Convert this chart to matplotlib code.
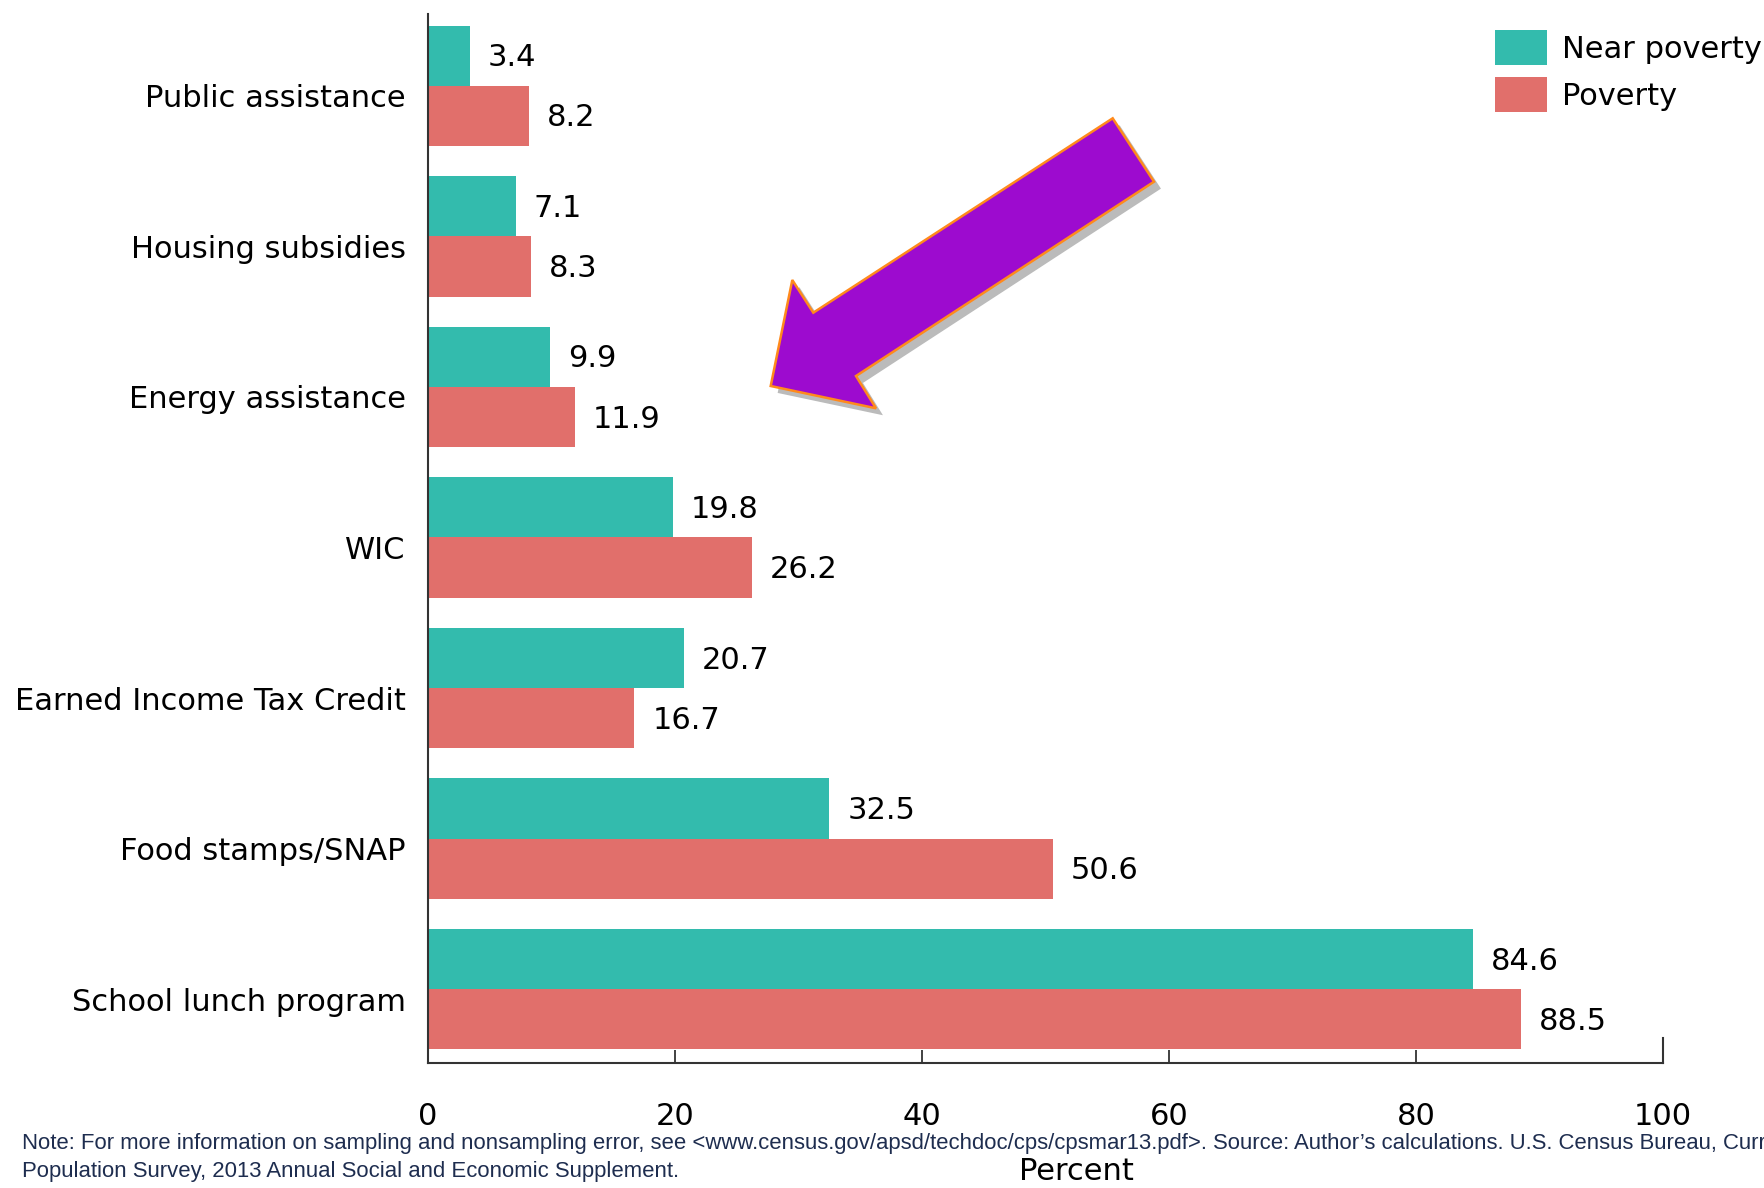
import numpy as np
import matplotlib
matplotlib.use('Agg')
import matplotlib.pyplot as plt
import matplotlib.patheffects as pe
from matplotlib.patches import Polygon
from matplotlib.transforms import ScaledTranslation

# Chart data
categories = ['Public assistance', 'Housing subsidies', 'Energy assistance', 'WIC',
              'Earned Income Tax Credit', 'Food stamps/SNAP', 'School lunch program']
near_poverty = [3.4, 7.1, 9.9, 19.8, 20.7, 32.5, 84.6]
poverty = [8.2, 8.3, 11.9, 26.2, 16.7, 50.6, 88.5]
x_ticks = [0, 20, 40, 60, 80, 100]

note_lines = ["Note: For more information on sampling and nonsampling error, see "
              "<www.census.gov/apsd/techdoc/cps/cpsmar13.pdf>. Source: Author\u2019s calculations. "
              "U.S. Census Bureau, Current",
              "Population Survey, 2013 Annual Social and Economic Supplement."]

teal = '#33BBAD'
red = '#E16F6B'
W, H = 1765, 1188

plt.rcParams['font.family'] = 'DejaVu Sans'
fig = plt.figure(figsize=(W / 100, H / 100), dpi=100)
ax = fig.add_axes([428 / W, 1 - 1063 / H, (1663 - 428) / W, (1063 - 13.5) / H])

y = np.arange(len(categories))[::-1]
h = 0.4
b1 = ax.barh(y + h / 2, near_poverty, height=h, color=teal, label='Near poverty')
b2 = ax.barh(y - h / 2, poverty, height=h, color=red, label='Poverty')

for bars, vals in [(b1, near_poverty), (b2, poverty)]:
    for bar, v in zip(bars, vals):
        ax.annotate(f'{v}', (v, bar.get_y() + bar.get_height() / 2),
                    xytext=(13, -1.5), textcoords='offset points',
                    va='center', ha='left', fontsize=22, color='black')

ax.set_xlim(0, 100)
ax.set_ylim(-0.49, len(categories) - 0.52)
ax.set_yticks(y)
ax.set_yticklabels(categories, fontsize=22)
ax.set_xticks(x_ticks)
ax.set_xticklabels([str(t) for t in x_ticks], fontsize=22)
ax.tick_params(axis='y', length=0, pad=16)
ax.tick_params(axis='x', direction='in', length=9.5, width=1.3, color='#333333', pad=28)
# category labels sit a little below the group centre in the original
shift = ScaledTranslation(0, -0.10, fig.dpi_scale_trans)
for lab in ax.get_yticklabels():
    lab.set_transform(lab.get_transform() + shift)
for s in ['top', 'right']:
    ax.spines[s].set_visible(False)
for s in ['left', 'bottom']:
    ax.spines[s].set_color('#333333')
    ax.spines[s].set_linewidth(1.5)
# longer end tick at 100
ax.axvline(100, ymin=0, ymax=25 / 1049.5, color='#333333', lw=1.5, clip_on=False)

fig.text(1076 / W, 1 - 1171 / H, 'Percent', ha='center', va='center', fontsize=22)

fig.legend(handles=[b1, b2], loc='upper left', bbox_to_anchor=(1495 / W, 1 - 30 / H),
           frameon=False, fontsize=22, handlelength=1.7, handleheight=1.4,
           handletextpad=0.5, labelspacing=0.38, borderpad=0, borderaxespad=0)

# purple arrow callout
arrow_px = [(1112.7, 118.3), (1154, 181.7), (856, 376), (876, 408.3),
            (770.7, 386), (792.3, 280), (813.3, 312.7)]
pts = [(px / W, 1 - py / H) for px, py in arrow_px]
arrow = Polygon(pts, closed=True, transform=fig.transFigure, facecolor='#9D0BCF',
                edgecolor='#FF8A1C', linewidth=1.8, joinstyle='miter')
arrow.set_path_effects([pe.SimplePatchShadow(offset=(5, -5), shadow_rgbFace='#555555', alpha=0.4),
                        pe.Normal()])
fig.patches.append(arrow)

for line, ypx in zip(note_lines, [1144, 1172]):
    fig.text(22 / W, 1 - ypx / H, line, ha='left', va='center', fontsize=15.9,
             color='#1E2D4F', family=['Liberation Sans', 'DejaVu Sans'])

fig.savefig('out.png', dpi=100)
